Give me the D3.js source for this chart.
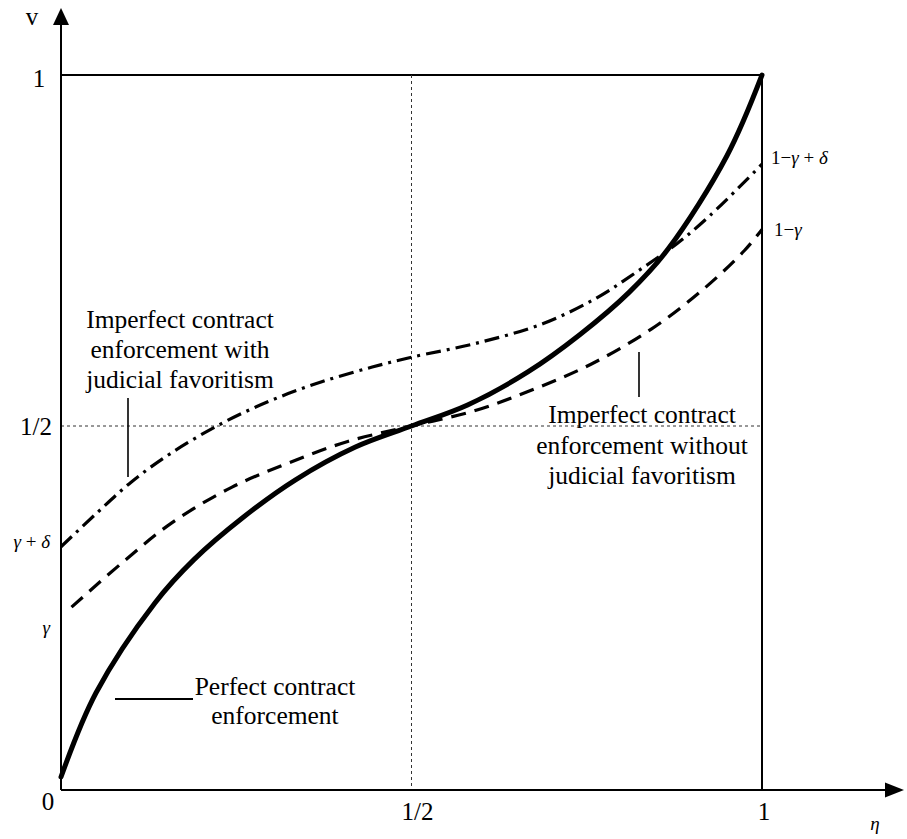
<!DOCTYPE html>
<html>
<head>
<meta charset="utf-8">
<script src="https://cdn.jsdelivr.net/npm/d3@7/dist/d3.min.js"></script>
<style>
  html, body { margin: 0; padding: 0; background: #fff; }
  svg { display: block; }
</style>
</head>
<body>
<script>
// ---- data (x = eta, v) ----
const perfectX = [0, 0.05, 0.134, 0.19, 0.26, 0.334, 0.42, 0.5, 0.58, 0.666, 0.74, 0.81, 0.866, 0.95, 1];
const perfectV = [0, 0.12, 0.248, 0.31, 0.37, 0.423, 0.47, 0.5, 0.53, 0.577, 0.63, 0.69, 0.752, 0.885, 1];

const noFavX = [0.015, 0.087, 0.158, 0.244, 0.324, 0.409, 0.5, 0.591, 0.676, 0.756, 0.842, 0.913, 0.975, 1];
const noFavV = [0.242, 0.305, 0.362, 0.413, 0.447, 0.478, 0.5, 0.522, 0.553, 0.588, 0.638, 0.692, 0.75, 0.78];

const favX = [0, 0.05, 0.1, 0.158, 0.23, 0.301, 0.372, 0.444, 0.5, 0.593, 0.688, 0.765, 0.822, 0.879, 0.926, 1];
const favV = [0.328, 0.375, 0.42, 0.462, 0.504, 0.537, 0.563, 0.584, 0.598, 0.618, 0.646, 0.683, 0.72, 0.76, 0.8, 0.873];

const xTickValues = [0.5, 1];
const xTickLabels = ["1/2", "1"];
const yTickValues = [0.5, 1];
const yTickLabels = ["1/2", "1"];
const originLabel = "0";

// label parts: [text, italic]
const leftParams = [
  { v: 0.328, parts: [["\u03B3", true], [" + ", false], ["\u03B4", true]] },
  { v: 0.205, parts: [["\u03B3", true]] }
];
const rightParams = [
  { v: 0.873, parts: [["1\u2212", false], ["\u03B3", true], [" + ", false], ["\u03B4", true]] },
  { v: 0.776, parts: [["1\u2212", false], ["\u03B3", true]] }
];

const labelFav = ["Imperfect contract", "enforcement with", "judicial favoritism"];
const labelNoFav = ["Imperfect contract", "enforcement without", "judicial favoritism"];
const labelPerfect = ["Perfect contract", "enforcement"];

// ---- layout ----
const W = 907, H = 839;
const vOrigin = -0.0185;
const x = d3.scaleLinear().domain([0, 1]).range([61, 762]);
const y = d3.scaleLinear().domain([vOrigin, 1]).range([790, 75]);

const svg = d3.select("body").append("svg").attr("width", W).attr("height", H)
  .attr("font-family", "'Liberation Serif', 'DejaVu Serif', 'Times New Roman', Times, serif");

// reference lines
svg.append("line").attr("x1", x(0)).attr("x2", x(1)).attr("y1", y(1)).attr("y2", y(1))
  .attr("stroke", "#000").attr("stroke-width", 2);
svg.append("line").attr("x1", x(1)).attr("x2", x(1)).attr("y1", y(1)).attr("y2", y(vOrigin))
  .attr("stroke", "#000").attr("stroke-width", 2);
svg.append("line").attr("x1", x(0)).attr("x2", x(1)).attr("y1", y(0.5)).attr("y2", y(0.5))
  .attr("stroke", "#333").attr("stroke-width", 1).attr("stroke-dasharray", "3,3");
svg.append("line").attr("x1", x(0.5)).attr("x2", x(0.5)).attr("y1", y(1)).attr("y2", y(vOrigin))
  .attr("stroke", "#333").attr("stroke-width", 1).attr("stroke-dasharray", "3,3");

// axes
svg.append("line").attr("x1", x(0)).attr("x2", 888).attr("y1", y(vOrigin)).attr("y2", y(vOrigin))
  .attr("stroke", "#000").attr("stroke-width", 2);
svg.append("line").attr("x1", x(0)).attr("x2", x(0)).attr("y1", y(vOrigin)).attr("y2", 22)
  .attr("stroke", "#000").attr("stroke-width", 2);
svg.append("path").attr("d", `M885,${y(vOrigin) - 7.5}L904,${y(vOrigin)}L885,${y(vOrigin) + 7.5}Z`).attr("fill", "#000");
svg.append("path").attr("d", `M${x(0) - 8},25L${x(0)},8L${x(0) + 8},25Z`).attr("fill", "#000");

// axis labels
const fs = 25;
svg.append("text").attr("x", 32).attr("y", 25).attr("text-anchor", "middle").attr("font-size", fs).text("v");
svg.append("text").attr("x", 875).attr("y", 830).attr("text-anchor", "middle").attr("font-size", 19)
  .attr("font-style", "italic").text("\u03B7");
svg.append("text").attr("x", 48).attr("y", y(vOrigin) + 20).attr("text-anchor", "middle").attr("font-size", fs).text(originLabel);

yTickValues.forEach((v, i) => {
  svg.append("text").attr("x", i === 1 ? 39 : 36).attr("y", y(v) + (i === 1 ? 12 : 9))
    .attr("text-anchor", "middle").attr("font-size", fs).text(yTickLabels[i]);
});
xTickValues.forEach((v, i) => {
  svg.append("text").attr("x", x(v) + (i === 0 ? 6 : 2)).attr("y", y(vOrigin) + 30)
    .attr("text-anchor", "middle").attr("font-size", fs).text(xTickLabels[i]);
});

function partsText(sel, parts) {
  parts.forEach(([t, it]) => {
    sel.append("tspan").attr("font-style", it ? "italic" : "normal").text(t);
  });
}
leftParams.forEach(p => {
  const t = svg.append("text").attr("x", 50).attr("y", y(p.v) + 1).attr("text-anchor", "end")
    .attr("font-size", 19).style("white-space", "pre");
  partsText(t, p.parts);
});
rightParams.forEach((p, i) => {
  const t = svg.append("text").attr("x", i === 0 ? 771 : 774).attr("y", y(p.v) + (i === 0 ? 0 : 4)).attr("text-anchor", "start")
    .attr("font-size", 19).style("white-space", "pre");
  partsText(t, p.parts);
});

// curves
const line = d3.line().x(d => x(d[0])).y(d => y(d[1])).curve(d3.curveCatmullRom.alpha(0.5));
const zip = (a, b) => a.map((d, i) => [d, b[i]]);

svg.append("path").datum(zip(favX, favV)).attr("d", line)
  .attr("fill", "none").attr("stroke", "#000").attr("stroke-width", 3.2)
  .attr("stroke-dasharray", "15,6,3,6");
svg.append("path").datum(zip(noFavX, noFavV)).attr("d", line)
  .attr("fill", "none").attr("stroke", "#000").attr("stroke-width", 3.2)
  .attr("stroke-dasharray", "15,9");
svg.append("path").datum(zip(perfectX, perfectV)).attr("d", line)
  .attr("fill", "none").attr("stroke", "#000").attr("stroke-width", 5)
  .attr("stroke-linecap", "round");

// annotation texts
const lfs = 25.5;
labelFav.forEach((t, i) => {
  svg.append("text").attr("x", 180).attr("y", 328 + i * 30).attr("text-anchor", "middle")
    .attr("font-size", lfs).text(t);
});
svg.append("line").attr("x1", 128).attr("x2", 128).attr("y1", 398).attr("y2", 477)
  .attr("stroke", "#000").attr("stroke-width", 1.6);

labelNoFav.forEach((t, i) => {
  svg.append("text").attr("x", 642).attr("y", 423 + i * 30.5).attr("text-anchor", "middle")
    .attr("font-size", lfs).text(t);
});
svg.append("line").attr("x1", 639).attr("x2", 639).attr("y1", 352).attr("y2", 397)
  .attr("stroke", "#000").attr("stroke-width", 1.6);

labelPerfect.forEach((t, i) => {
  svg.append("text").attr("x", 275).attr("y", 695 + i * 29).attr("text-anchor", "middle")
    .attr("font-size", lfs).text(t);
});
svg.append("line").attr("x1", 115).attr("x2", 193).attr("y1", 699).attr("y2", 699)
  .attr("stroke", "#000").attr("stroke-width", 2);
</script>
</body>
</html>
